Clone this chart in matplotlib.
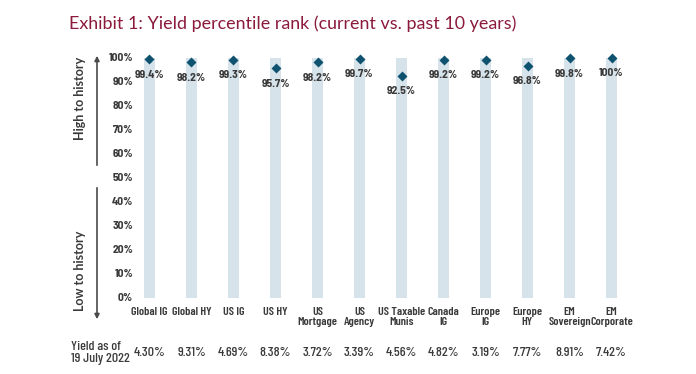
import matplotlib
matplotlib.use("Agg")
import matplotlib.pyplot as plt
from matplotlib import font_manager
from matplotlib.patches import FancyArrowPatch

categories = ["Global IG", "Global HY", "US IG", "US HY", "US\nMortgage", "US\nAgency",
              "US Taxable\nMunis", "Canada\nIG", "Europe\nIG", "Europe\nHY", "EM\nSovereign", "EM\nCorporate"]
percentile = [99.4, 98.2, 99.3, 95.7, 98.2, 99.7, 92.5, 99.2, 99.2, 96.8, 99.8, 100.0]
pct_labels = ["99.4%", "98.2%", "99.3%", "95.7%", "98.2%", "99.7%", "92.5%", "99.2%", "99.2%", "96.8%", "99.8%", "100%"]
yields = ["4.30%", "9.31%", "4.69%", "8.38%", "3.72%", "3.39%", "4.56%", "4.82%", "3.19%", "7.77%", "8.91%", "7.42%"]
yticks = [0, 10, 20, 30, 40, 50, 60, 70, 80, 90, 100]

names = {f.name for f in font_manager.fontManager.ttflist}
def pick(*fams):
    out = [f for f in fams if f in names]
    return out + ["DejaVu Sans"]

COND = pick("Barlow Condensed")
SEMI = pick("Barlow Semi Condensed", "Barlow Condensed")
HUM = pick("Lato", "Open Sans")

W, H = 696, 374
fig = plt.figure(figsize=(W / 100, H / 100), dpi=100)

left_px = 149.5 - 0.7 * 42
right_px = 611.5 + 0.5 * 42
top_px, bot_px = 58, 298
ax = fig.add_axes([left_px / W, (H - bot_px) / H, (right_px - left_px) / W, (bot_px - top_px) / H])
ax.set_xlim(-0.7, 11.5)
ax.set_ylim(0, 100)
ax.axis("off")

x = list(range(len(categories)))
ax.bar(x, [100] * len(x), width=0.26, color="#d6e3ea", zorder=1)
ax.scatter(x, percentile, marker="D", s=26, color="#0f5270", zorder=3, clip_on=False, linewidths=0)

textc = "#3a3a3a"
for xi, v, lab in zip(x, percentile, pct_labels):
    ax.annotate(lab, (xi, v), xytext=(0, -15.5), textcoords="offset pixels",
                ha="center", va="center", fontsize=8.3, fontweight="bold", color=textc,
                family=SEMI, zorder=4)

for t in yticks:
    ax.text(-0.39, t, f"{t}%", ha="right", va="center", fontsize=8.3, fontweight="bold",
            color=textc, family=SEMI)

for xi, c, y in zip(x, categories, yields):
    xf = (149.5 + xi * 42) / W
    fig.text(xf, 1 - 307 / H, c, ha="center", va="top", fontsize=8.7, fontweight="semibold",
             color=textc, family=COND, linespacing=1.0)
    fig.text(xf, 1 - 353 / H, y, ha="center", va="center", fontsize=10, fontweight="medium",
             color=textc, family=COND)

fig.text(71 / W, 1 - 353 / H, "Yield as of\n19 July 2022", ha="left", va="center", fontsize=10,
         fontweight="medium", color=textc, family=COND, linespacing=0.95)

arrc = "#4a4a4a"
fig.add_artist(FancyArrowPatch((97 / W, 1 - 168 / H), (97 / W, 1 - 53 / H),
               transform=fig.transFigure, arrowstyle="-|>", mutation_scale=7, color=arrc, lw=1.2))
fig.add_artist(FancyArrowPatch((97 / W, 1 - 185 / H), (97 / W, 1 - 322 / H),
               transform=fig.transFigure, arrowstyle="-|>", mutation_scale=7, color=arrc, lw=1.2))
fig.text(80 / W, 1 - 98 / H, "High to history", rotation=90, ha="center", va="center",
         fontsize=9, fontweight="bold", color=textc, family=HUM)
fig.text(80 / W, 1 - 271 / H, "Low to history", rotation=90, ha="center", va="center",
         fontsize=9, fontweight="bold", color=textc, family=HUM)

fig.text(69 / W, 1 - 24 / H, "Exhibit 1: Yield percentile rank (current vs. past 10 years)",
         ha="left", va="center", fontsize=12.9, color="#8b1a3c", family=HUM)

fig.savefig("out.png", dpi=100)
